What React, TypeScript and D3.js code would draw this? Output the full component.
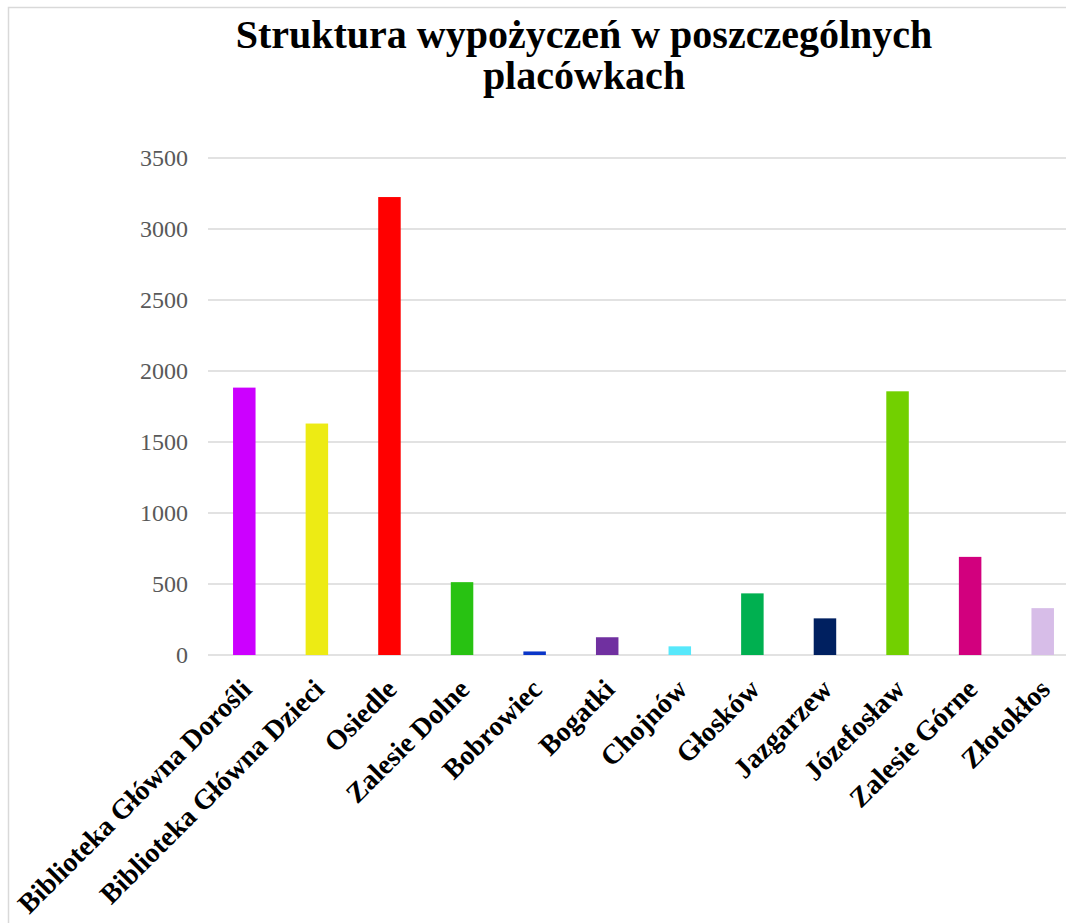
import React, { useEffect, useRef } from "react";
import * as d3 from "d3";

const categories = [
  "Biblioteka Główna Dorośli",
  "Biblioteka Główna Dzieci",
  "Osiedle",
  "Zalesie Dolne",
  "Bobrowiec",
  "Bogatki",
  "Chojnów",
  "Głosków",
  "Jazgarzew",
  "Józefosław",
  "Zalesie Górne",
  "Złotokłos",
];
const values = [1883, 1630, 3225, 513, 25, 125, 61, 434, 258, 1857, 691, 330];
const barColors = [
  "#CC00FF", "#EDEB14", "#FF0000", "#28C212", "#0A36C8", "#7030A0",
  "#57E8FB", "#00B050", "#002060", "#72D000", "#D2007E", "#D7BDE8",
];
const yTicks = [0, 500, 1000, 1500, 2000, 2500, 3000, 3500];
const titleLines = ["Struktura wypożyczeń w poszczególnych", "placówkach"];

const W = 1066;
const H = 923;

export default function App() {
  const ref = useRef<SVGSVGElement>(null);

  useEffect(() => {
    const svg = d3.select(ref.current);
    svg.selectAll("*").remove();

    svg.append("rect").attr("width", W).attr("height", H).attr("fill", "#fff");

    // chart border (cut off on the right/bottom)
    svg.append("rect")
      .attr("x", 8.5).attr("y", 7.5)
      .attr("width", W + 50).attr("height", H + 50)
      .attr("fill", "none").attr("stroke", "#d9d9d9").attr("stroke-width", 1.5);

    const x = d3.scaleBand()
      .domain(categories)
      .range([208, 1079])
      .paddingInner(0.69)
      .paddingOuter(0.345);

    const y = d3.scaleLinear().domain([0, 3500]).range([655, 158]);

    // title
    const title = svg.append("text")
      .attr("text-anchor", "middle")
      .attr("font-family", "'Liberation Serif', serif")
      .attr("font-weight", "bold")
      .attr("font-size", 40)
      .attr("fill", "#000");
    titleLines.forEach((t, i) => {
      title.append("tspan").attr("x", 584).attr("y", 48 + i * 41).text(t);
    });

    // gridlines
    svg.append("g")
      .selectAll("line")
      .data(yTicks)
      .join("line")
      .attr("x1", 208).attr("x2", 1079)
      .attr("y1", (d) => y(d)).attr("y2", (d) => y(d))
      .attr("stroke", "#d9d9d9").attr("stroke-width", 1.5);

    // y tick labels
    svg.append("g")
      .selectAll("text")
      .data(yTicks)
      .join("text")
      .attr("x", 188)
      .attr("y", (d) => y(d))
      .attr("dy", "0.35em")
      .attr("text-anchor", "end")
      .attr("font-family", "'Liberation Serif', serif")
      .attr("font-size", 24)
      .attr("fill", "#595959")
      .text((d) => d);

    // bars
    svg.append("g")
      .selectAll("rect")
      .data(values)
      .join("rect")
      .attr("x", (d, i) => x(categories[i])!)
      .attr("y", (d) => y(d))
      .attr("width", x.bandwidth())
      .attr("height", (d) => y(0) - y(d))
      .attr("fill", (d, i) => barColors[i]);

    // x labels
    svg.append("g")
      .selectAll("text")
      .data(categories)
      .join("text")
      .attr("transform", (d) => `translate(${x(d)! + x.bandwidth() / 2 + 2},${684}) rotate(-45)`)
      .attr("dy", "0.35em")
      .attr("text-anchor", "end")
      .attr("font-family", "'Liberation Serif', serif")
      .attr("font-weight", "bold")
      .attr("font-size", 28)
      .attr("fill", "#000")
      .text((d) => d);
  }, []);

  return (
    <div style={{ position: "absolute", left: 0, top: 0 }}>
      <svg ref={ref} width={W} height={H} style={{ display: "block" }} />
    </div>
  );
}
